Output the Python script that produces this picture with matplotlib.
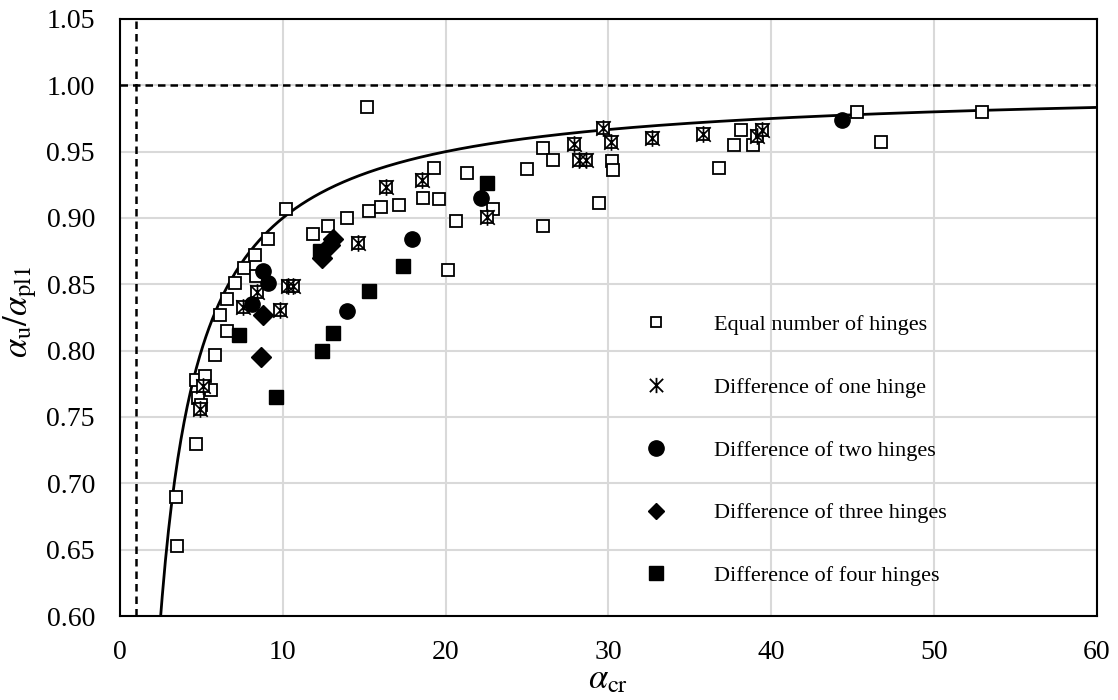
import numpy as np
import matplotlib
matplotlib.use("Agg")
import matplotlib.pyplot as plt
from matplotlib.path import Path
from matplotlib.lines import Line2D

plt.rcParams["font.family"] = ["Liberation Serif", "DejaVu Serif"]
plt.rcParams["mathtext.fontset"] = "stix"

# Equal number of hinges
eq_x = [3.44, 3.50, 4.67, 4.80, 4.70, 5.20, 5.60, 5.00, 5.84, 6.14, 6.57, 6.55,
        7.04, 7.60, 8.35, 8.27, 9.11, 10.20, 11.85, 12.80, 13.93, 15.32, 16.03,
        17.16, 18.63, 19.59, 19.29, 15.15, 20.17, 20.64, 21.33, 22.90, 24.98,
        25.96, 26.62, 26.00, 29.42, 30.20, 30.26, 36.81, 37.71, 38.12, 38.86,
        45.25, 46.74, 52.93]
eq_y = [0.690, 0.653, 0.730, 0.764, 0.778, 0.781, 0.770, 0.759, 0.797, 0.827,
        0.815, 0.839, 0.851, 0.862, 0.856, 0.872, 0.884, 0.907, 0.888, 0.894,
        0.900, 0.905, 0.908, 0.910, 0.915, 0.914, 0.938, 0.984, 0.861, 0.898,
        0.934, 0.907, 0.937, 0.953, 0.944, 0.894, 0.911, 0.943, 0.936, 0.938,
        0.955, 0.966, 0.955, 0.980, 0.957, 0.980]

# Difference of one hinge
one_x = [4.90, 5.10, 7.58, 8.40, 9.83, 10.30, 10.60, 14.64, 16.34, 18.53, 22.52,
         27.89, 28.20, 28.60, 29.69, 30.16, 32.70, 35.79, 39.10, 39.41]
one_y = [0.756, 0.773, 0.833, 0.844, 0.831, 0.849, 0.849, 0.881, 0.923, 0.929,
         0.901, 0.956, 0.944, 0.944, 0.968, 0.957, 0.960, 0.963, 0.962, 0.966]

# Difference of two hinges
two_x = [8.80, 9.11, 8.09, 13.96, 17.92, 22.17, 44.33]
two_y = [0.860, 0.851, 0.835, 0.830, 0.884, 0.915, 0.974]

# Difference of three hinges
three_x = [8.66, 8.80, 12.40, 12.90, 13.10]
three_y = [0.795, 0.827, 0.870, 0.880, 0.884]

# Difference of four hinges
four_x = [7.30, 9.56, 12.39, 13.10, 15.31, 17.40, 22.52, 12.30]
four_y = [0.812, 0.765, 0.800, 0.813, 0.845, 0.864, 0.926, 0.875]

labels = ["Equal number of hinges", "Difference of one hinge",
          "Difference of two hinges", "Difference of three hinges",
          "Difference of four hinges"]

# star marker: X plus a vertical bar
star = Path([(-1, -1), (1, 1), (-1, 1), (1, -1), (0, -1.15), (0, 1.15)],
            [Path.MOVETO, Path.LINETO, Path.MOVETO, Path.LINETO,
             Path.MOVETO, Path.LINETO])

fig = plt.figure(figsize=(11.18, 7.0), dpi=100)
ax = fig.add_axes([0.1073, 0.12, 0.8739, 0.8529])

# design curve
xc = np.linspace(2.5, 60, 600)
ax.plot(xc, 1 - 1 / xc, color="black", lw=2.0, zorder=3)
ax.axhline(1.0, color="black", lw=1.8, ls=(0, (3, 2)), zorder=2)
ax.axvline(1.0, color="black", lw=1.8, ls=(0, (3, 2)), zorder=2)

ax.plot(eq_x, eq_y, ls="none", marker="s", ms=8, mfc="white", mec="black",
        mew=1.3, zorder=4)
ax.plot(one_x, one_y, ls="none", marker="s", ms=9, mfc="white", mec="black",
        mew=1.3, zorder=4)
ax.plot(one_x, one_y, ls="none", marker=star, ms=12, mfc="none", mec="black",
        mew=1.2, zorder=5)
ax.plot(two_x, two_y, ls="none", marker="o", ms=11, color="black", zorder=4)
ax.plot(three_x, three_y, ls="none", marker="D", ms=10, color="black", zorder=4)
ax.plot(four_x, four_y, ls="none", marker="s", ms=10.5, color="black", zorder=4)

handles = [
    Line2D([], [], ls="none", marker="s", ms=7, mfc="white", mec="black", mew=1.3),
    Line2D([], [], ls="none", marker=star, ms=11, mec="black", mew=1.3),
    Line2D([], [], ls="none", marker="o", ms=11, color="black"),
    Line2D([], [], ls="none", marker="D", ms=8.5, color="black"),
    Line2D([], [], ls="none", marker="s", ms=10, color="black"),
]
ax.legend(handles, labels, loc="upper left", bbox_to_anchor=(0.528, 0.52),
          frameon=False, fontsize=16, labelspacing=1.9, handlelength=1.0,
          handletextpad=2.1, borderaxespad=0)

ax.set_xlim(0, 60)
ax.set_ylim(0.60, 1.05)
ax.set_xticks(np.arange(0, 61, 10))
ax.set_yticks(np.arange(0.60, 1.051, 0.05))
ax.set_yticklabels([f"{v:.2f}" for v in np.arange(0.60, 1.051, 0.05)])
ax.grid(True, color="#d9d9d9", lw=1.5, zorder=0)
ax.set_axisbelow(True)
ax.tick_params(length=0, labelsize=20)
ax.tick_params(axis="x", pad=17)
ax.tick_params(axis="y", pad=18)
for s in ax.spines.values():
    s.set_linewidth(1.5)
    s.set_color("black")

ax.set_xlabel(r"$\alpha_{\rm cr}$", fontsize=25)
ax.xaxis.label.set_va("center")
ax.xaxis.set_label_coords(0.5, -0.107)
ax.set_ylabel(r"$\alpha_{\rm u}/\alpha_{\rm pl1}$", fontsize=25)
ax.yaxis.label.set_va("center")
ax.yaxis.set_label_coords(-0.102, 0.51)

fig.savefig("out.png", dpi=100)
